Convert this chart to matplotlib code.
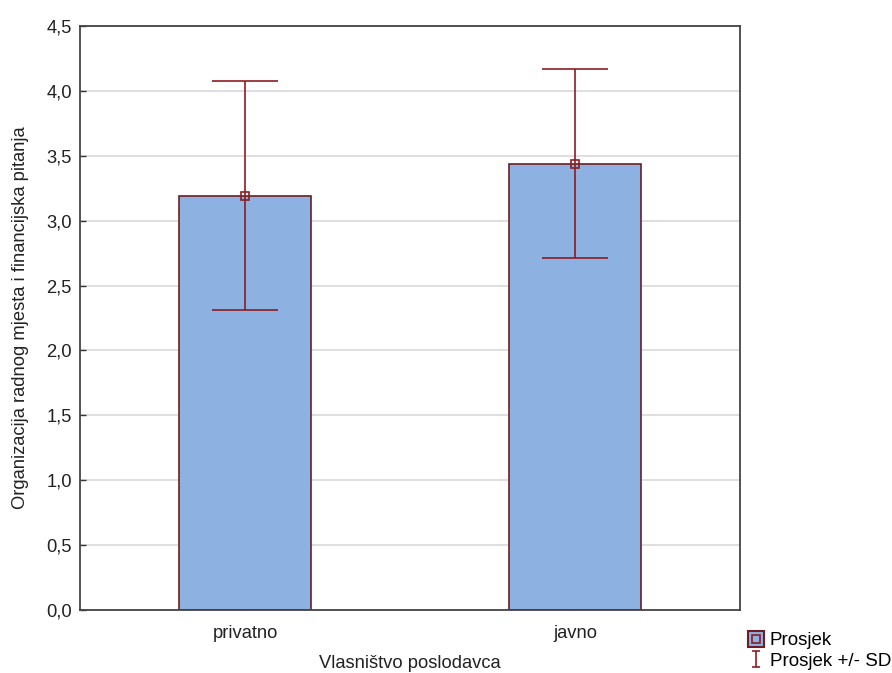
import matplotlib.pyplot as plt
import numpy as np
from matplotlib.lines import Line2D
from matplotlib.path import Path
from matplotlib.ticker import FuncFormatter

plt.rcParams['font.family'] = ['Liberation Sans', 'DejaVu Sans']

categories = ['privatno', 'javno']
means = [3.19, 3.44]
upper = [4.08, 4.165]
lower = [2.31, 2.71]

bar_col = '#8db1e1'
edge_col = '#6b1f24'
err_col = '#8e1c24'
fs = 13.2

fig = plt.figure(figsize=(8.92, 6.73), dpi=100)
ax = fig.add_axes([80/892, 1-610/673, 660/892, 584/673])

x = np.arange(len(categories))
m = np.array(means)
yerr = [m - np.array(lower), np.array(upper) - m]

ax.bar(x, means, width=0.4, color=bar_col, edgecolor=edge_col, linewidth=1.2, zorder=2)
ax.errorbar(x, means, yerr=yerr, fmt='none', ecolor=err_col, elinewidth=1.2,
            capsize=24, capthick=1.2, zorder=3)
ax.plot(x, means, 's', ms=6, mfc='none', mec=err_col, mew=1.2, zorder=4)

ax.set_xlim(-0.5, 1.5)
ax.set_ylim(0, 4.5)
ax.set_yticks(np.arange(0, 4.51, 0.5))
ax.yaxis.set_major_formatter(FuncFormatter(lambda v, p: f'{v:.1f}'.replace('.', ',')))
ax.set_xticks(x)
ax.set_xticklabels(categories)
ax.tick_params(direction='in', labelsize=fs, colors='#333333', labelcolor='#222222', length=4, width=1)
ax.tick_params(axis='x', pad=11)
ax.tick_params(axis='y', pad=6)
ax.grid(axis='y', color='#d9d9d9', linewidth=1.2, zorder=0)
ax.set_axisbelow(True)
for s in ax.spines.values():
    s.set_color('#444444')
    s.set_linewidth(1.3)

ax.set_xlabel('Vlasništvo poslodavca', fontsize=fs, color='#222222', labelpad=9)
ax.set_ylabel('Organizacija radnog mjesta i financijska pitanja', fontsize=fs,
              color='#222222', labelpad=12)

i_path = Path([(-0.5, 1), (0.5, 1), (0, 1), (0, -1), (-0.5, -1), (0.5, -1)],
              [Path.MOVETO, Path.LINETO, Path.MOVETO, Path.LINETO, Path.MOVETO, Path.LINETO])
h1 = (Line2D([], [], marker='s', ms=12, mfc=bar_col, mec=edge_col, mew=1.5, ls='none'),
      Line2D([], [], marker='s', ms=6, mfc='none', mec=err_col, mew=1.2, ls='none'))
h2 = Line2D([], [], marker=i_path, ms=11, mec=err_col, mew=1.2, ls='none')
fig.legend([h1, h2], ['Prosjek', 'Prosjek +/- SD'], loc='upper left',
           bbox_to_anchor=(748/892, 1-632/673), frameon=False, fontsize=13.5,
           handlelength=0.8, handletextpad=0.35, labelspacing=0.2, borderpad=0,
           borderaxespad=0)

fig.savefig('out.png', dpi=100)
